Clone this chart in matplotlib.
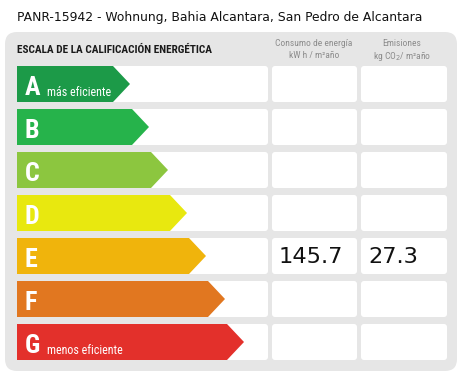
import matplotlib
matplotlib.use("Agg")
import matplotlib.pyplot as plt
from matplotlib.patches import FancyBboxPatch, Polygon
from matplotlib import font_manager

title = "PANR-15942 - Wohnung, Bahia Alcantara, San Pedro de Alcantara"
header = "ESCALA DE LA CALIFICACIÓN ENERGÉTICA"
col1_header = ["Consumo de energía", "kW h / m²año"]
col2_header = ["Emisiones", "kg CO$_2$/ m²año"]
classes = ["A", "B", "C", "D", "E", "F", "G"]
subtitles = ["más eficiente", "", "", "", "", "", "menos eficiente"]
colors = ["#1c9a48", "#26b34b", "#8cc63f", "#e8e80f", "#f0b40c", "#e17720", "#e3302b"]
rating_class = "E"
consumption = "145.7"
emissions = "27.3"

entries = [(f.name, f.stretch, f.weight) for f in font_manager.fontManager.ttflist]
names = {e[0] for e in entries}
narrow_list = [n for n in ["Roboto Condensed", "Liberation Sans Narrow"] if n in names]
has_dv_cond = any(e[0] == "DejaVu Sans" and str(e[1]) in ("condensed", "semi-condensed") for e in entries)
narrow = narrow_list + ["DejaVu Sans" if has_dv_cond else "Roboto"]

W, H = 464, 377
fig = plt.figure(figsize=(W / 100, H / 100), dpi=100)
ax = fig.add_axes([0, 0, 1, 1])
ax.set_xlim(0, W)
ax.set_ylim(H, 0)
ax.axis("off")

def px(v):
    return v * 72 / 100

ax.text(17, 17, title, fontsize=px(12.4), family="DejaVu Sans", va="center", ha="left", color="#111111")

panel = FancyBboxPatch((5, 32), 452, 339, boxstyle="round,pad=0,rounding_size=12",
                       fc="#e6e6e6", ec="none")
ax.add_patch(panel)

cond = dict(family=narrow, stretch="condensed")
ax.text(17, 50, header, fontsize=px(11.3), weight="bold", va="center", ha="left", color="#1a1a1a", **cond)
for i, s in enumerate(col1_header):
    ax.text(314, 44 + 12 * i, s, fontsize=px(9.5), va="center", ha="center", color="#8c8c8c", **cond)
for i, s in enumerate(col2_header):
    ax.text(402, 44 + 12 * i, s, fontsize=px(9.5), va="center", ha="center", color="#8c8c8c", **cond)

row_top0, pitch, rh = 66, 43, 36
for i, (c, sub, col) in enumerate(zip(classes, subtitles, colors)):
    top = row_top0 + pitch * i
    for (x0, x1) in [(17, 268), (272, 357), (361, 447)]:
        ax.add_patch(FancyBboxPatch((x0, top), x1 - x0, rh, boxstyle="round,pad=0,rounding_size=3",
                                    fc="white", ec="none"))
    tip = 130 + 19.0 * i
    body = tip - 17
    ax.add_patch(Polygon([(17, top), (body, top), (tip, top + rh / 2), (body, top + rh), (17, top + rh)],
                         closed=True, fc=col, ec="none"))
    ax.text(25, top + 29, c, fontsize=px(26), weight="bold", color="white",
            va="baseline", ha="left", **cond)
    if sub:
        ax.text(47, top + 30, sub, fontsize=px(12), color="white", va="baseline", ha="left", **cond)
    if c == rating_class:
        ax.text(279, top + rh / 2 + 1, consumption, fontsize=px(22.5), family="DejaVu Sans",
                color="#111111", va="center", ha="left")
        ax.text(368, top + rh / 2 + 1, emissions, fontsize=px(22.5), family="DejaVu Sans",
                color="#111111", va="center", ha="left")

fig.savefig("out.png", dpi=100)
